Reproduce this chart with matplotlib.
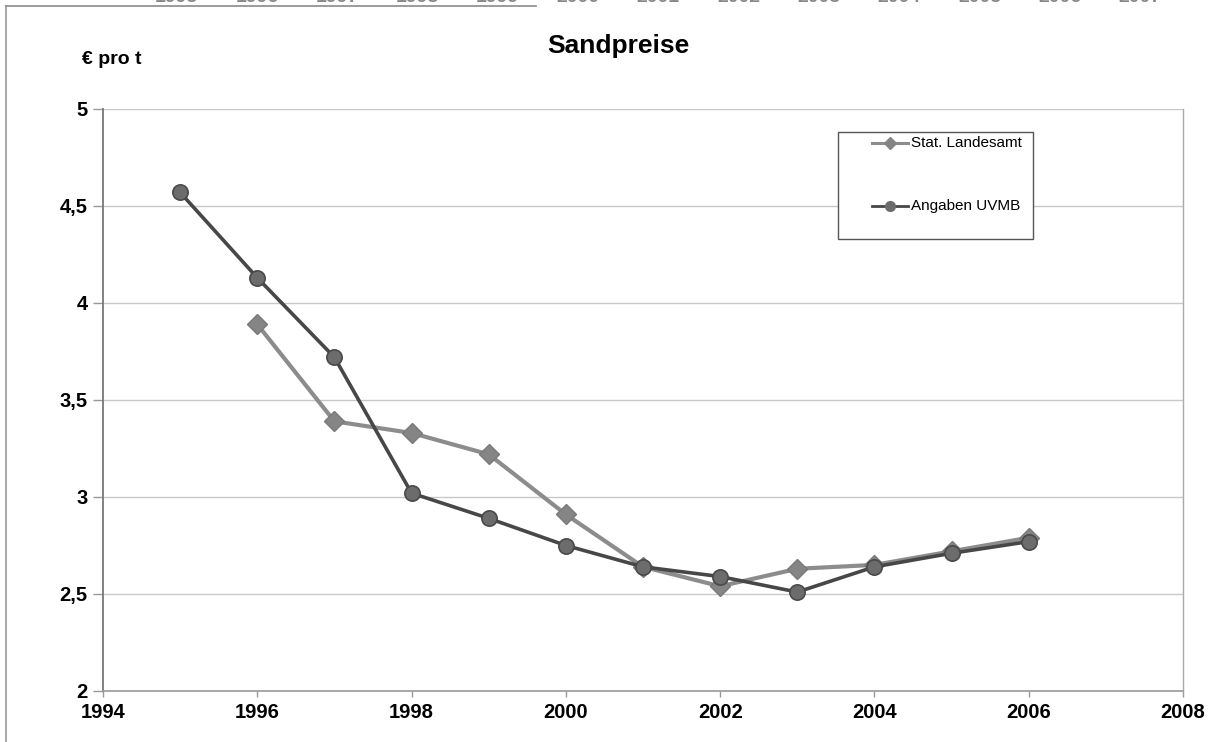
import matplotlib
matplotlib.use("Agg")
import matplotlib.pyplot as plt
from matplotlib.lines import Line2D
from matplotlib.patches import Rectangle
from matplotlib.ticker import FuncFormatter

plt.rcParams['font.family'] = ['Liberation Sans', 'DejaVu Sans']

# ---- data ----
years_landesamt = [1996, 1997, 1998, 1999, 2000, 2001, 2002, 2003, 2004, 2005, 2006]
values_landesamt = [3.89, 3.39, 3.33, 3.22, 2.91, 2.64, 2.54, 2.63, 2.65, 2.72, 2.79]

years_uvmb = [1995, 1996, 1997, 1998, 1999, 2000, 2001, 2002, 2003, 2004, 2005, 2006]
values_uvmb = [4.57, 4.13, 3.72, 3.02, 2.89, 2.75, 2.64, 2.59, 2.51, 2.64, 2.71, 2.77]

label_landesamt = "Stat. Landesamt"
label_uvmb = "Angaben UVMB"
title = "Sandpreise"
unit_label = "€ pro t"
x_ticks = [1994, 1996, 1998, 2000, 2002, 2004, 2006, 2008]
y_ticks = [2, 2.5, 3, 3.5, 4, 4.5, 5]
# cut-off labels of a previous chart at the top edge of the scan
top_labels = [str(y) for y in range(1995, 2008)]

W, H = 1210, 742
fig = plt.figure(figsize=(W / 100, H / 100), dpi=100)
fig.patch.set_facecolor('white')

def fx(px):
    return px / W

def fy(py):
    return 1 - py / H

ax = fig.add_axes([fx(103), fy(691), fx(1183) - fx(103), fy(109) - fy(691)])

c_land_line = '#8c8c8c'
c_land_mark = '#858585'
c_uv_line = '#474747'
c_uv_mark = '#6c6c6c'

ax.plot(years_landesamt, values_landesamt, color=c_land_line, lw=3.0,
        marker='D', markersize=10, markerfacecolor=c_land_mark,
        markeredgecolor='#7a7a7a', zorder=3)
ax.plot(years_uvmb, values_uvmb, color=c_uv_line, lw=2.6,
        marker='o', markersize=11, markerfacecolor=c_uv_mark,
        markeredgecolor='#4a4a4a', markeredgewidth=1.2, zorder=4)

ax.set_xlim(1994, 2008)
ax.set_ylim(2, 5)
ax.set_xticks(x_ticks)
ax.set_yticks(y_ticks)
ax.yaxis.set_major_formatter(FuncFormatter(lambda v, p: f"{v:g}".replace('.', ',')))

ax.grid(axis='y', color='#c8c8c8', lw=1.0, zorder=0)
ax.set_axisbelow(True)

ax.spines['top'].set_visible(False)
ax.spines['left'].set_color('#777777')
ax.spines['left'].set_linewidth(1.3)
ax.spines['bottom'].set_color('#999999')
ax.spines['bottom'].set_linewidth(1.2)
ax.spines['right'].set_color('#aaaaaa')
ax.spines['right'].set_linewidth(1.0)

ax.tick_params(axis='y', length=7, width=1, color='#999999', pad=4,
               labelsize=14.5)
ax.tick_params(axis='x', length=4, width=1, color='#999999', pad=5,
               labelsize=14.5)
for lab in ax.get_xticklabels() + ax.get_yticklabels():
    lab.set_fontweight('bold')

# title and unit
fig.text(fx(618), fy(46), title, ha='center', va='center',
         fontsize=19, fontweight='bold')
fig.text(fx(82), fy(60), unit_label, ha='left', va='center',
         fontsize=14, fontweight='bold')

# manual legend box
lx0, ly0, lx1, ly1 = 838, 132, 1033, 239
fig.patches.append(Rectangle((fx(lx0), fy(ly1)), fx(lx1) - fx(lx0), fy(ly0) - fy(ly1),
                             transform=fig.transFigure, facecolor='white',
                             edgecolor='#555555', lw=1.0, zorder=5))
for yy, lbl, col, mc, mk, ms, lw in [
        (143, label_landesamt, c_land_line, c_land_mark, 'D', 6, 2.2),
        (206, label_uvmb, c_uv_line, c_uv_mark, 'o', 7, 2.0)]:
    fig.lines.append(Line2D([fx(872), fx(908)], [fy(yy), fy(yy)],
                            transform=fig.transFigure, color=col, lw=lw,
                            zorder=6))
    fig.lines.append(Line2D([fx(890)], [fy(yy)], transform=fig.transFigure,
                            marker=mk, markersize=ms, markerfacecolor=mc,
                            markeredgecolor=mc, zorder=7, linestyle='none'))
    fig.text(fx(911), fy(yy), lbl, ha='left', va='center', fontsize=11,
             zorder=8)

# scan frame remnants
fig.lines.append(Line2D([fx(6), fx(6)], [fy(6), fy(742)], transform=fig.transFigure,
                        color='#9a9a9a', lw=1.2))
fig.lines.append(Line2D([fx(6), fx(536)], [fy(6), fy(6)], transform=fig.transFigure,
                        color='#8a8a8a', lw=1.2))

# cut-off labels at the very top (only their lower edge is in the scan)
for i, t in enumerate(top_labels):
    fig.text(fx(155 + 80.3 * i), fy(2.5), t, ha='left', va='baseline',
             fontsize=14, fontweight='bold', color='#888888')

fig.savefig('out.png', dpi=100)
